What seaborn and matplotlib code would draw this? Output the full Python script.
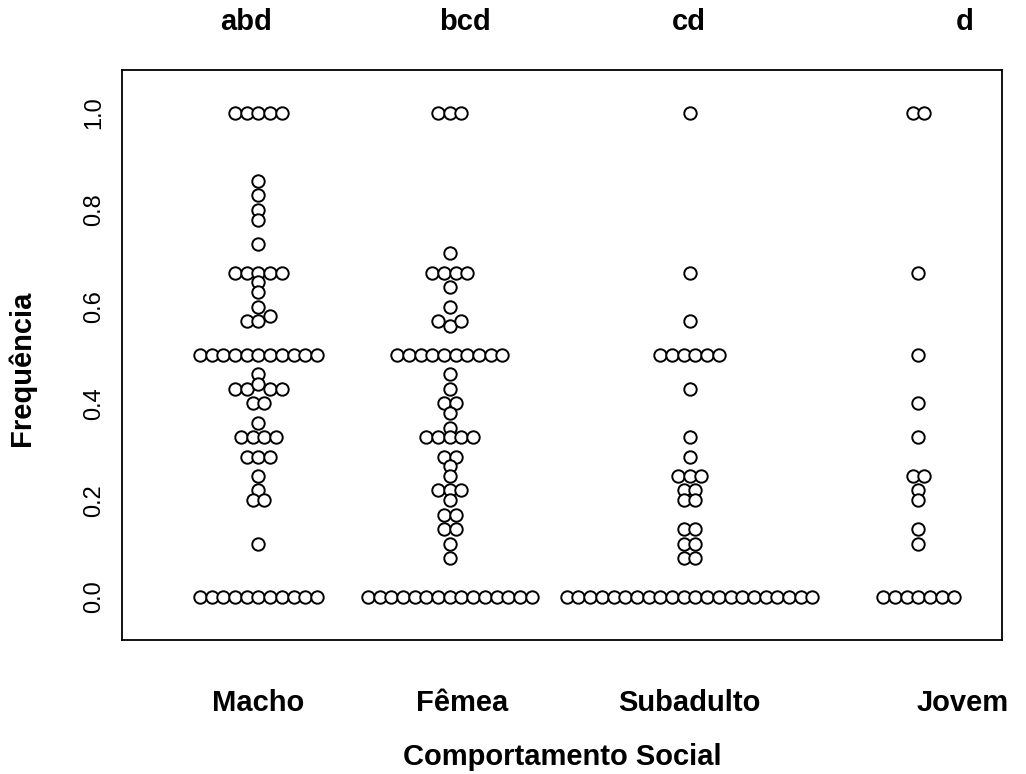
import numpy as np
import pandas as pd
import matplotlib
matplotlib.use("Agg")
import matplotlib.pyplot as plt
import seaborn as sns

# ---------------- data ----------------
grupos = ["Macho", "Fêmea", "Subadulto", "Jovem"]
letras = ["abd", "bcd", "cd", "d"]

macho = [1.0, 1.0, 1.0, 1.0, 1.0,
         0.86, 0.83, 0.80, 0.78, 0.73,
         0.67, 0.67, 0.67, 0.67, 0.67,
         0.65, 0.63, 0.60, 0.57, 0.57, 0.58,
         0.5, 0.5, 0.5, 0.5, 0.5, 0.5, 0.5, 0.5, 0.5, 0.5, 0.5,
         0.46, 0.43, 0.43, 0.44, 0.43, 0.43, 0.40, 0.40, 0.36,
         0.33, 0.33, 0.33, 0.33, 0.29, 0.29, 0.29, 0.25, 0.22, 0.20, 0.20, 0.11,
         0.0, 0.0, 0.0, 0.0, 0.0, 0.0, 0.0, 0.0, 0.0, 0.0, 0.0]

femea = [1.0, 1.0, 1.0,
         0.71, 0.67, 0.67, 0.67, 0.67, 0.64, 0.60, 0.57, 0.56, 0.57,
         0.5, 0.5, 0.5, 0.5, 0.5, 0.5, 0.5, 0.5, 0.5, 0.5,
         0.46, 0.43, 0.40, 0.40, 0.38, 0.35,
         0.33, 0.33, 0.33, 0.33, 0.33, 0.29, 0.29, 0.27, 0.25,
         0.22, 0.22, 0.22, 0.20, 0.17, 0.17, 0.14, 0.14, 0.11, 0.08,
         0.0, 0.0, 0.0, 0.0, 0.0, 0.0, 0.0, 0.0, 0.0, 0.0, 0.0, 0.0, 0.0, 0.0, 0.0]

subadulto = [1.0, 0.67, 0.57,
             0.5, 0.5, 0.5, 0.5, 0.5, 0.5,
             0.43, 0.33, 0.29, 0.25, 0.25, 0.25, 0.22, 0.22, 0.20, 0.20,
             0.14, 0.14, 0.11, 0.11, 0.08, 0.08,
             0.0, 0.0, 0.0, 0.0, 0.0, 0.0, 0.0, 0.0, 0.0, 0.0, 0.0,
             0.0, 0.0, 0.0, 0.0, 0.0, 0.0, 0.0, 0.0, 0.0, 0.0, 0.0]

jovem = [1.0, 1.0, 0.67, 0.5, 0.40, 0.33, 0.25, 0.25, 0.22, 0.20, 0.14, 0.11,
         0.0, 0.0, 0.0, 0.0, 0.0, 0.0, 0.0]

yticks = [0.0, 0.2, 0.4, 0.6, 0.8, 1.0]
ytick_labels = ["0.0", "0.2", "0.4", "0.6", "0.8", "1.0"]

# ---------------- layout ----------------
W, H, DPI = 1026, 774, 100
BOX = (122, 70, 1002, 640)          # left, top, right, bottom (px)
XLIM = (0.5, 4.5)
YLIM = (-0.089, 1.089)
centros = [1.12, 1.99, 3.08, 4.12]   # swarm centres
pos_rotulos = [1.12, 2.045, 3.08, 4.32]
pos_letras = [1.065, 2.06, 3.075, 4.33]
DIAM_PX = 11.7
TOL = 0.015
FS_BOLD = 21

sns.set_style("white")
plt.rcParams['font.family'] = ['Liberation Sans', 'DejaVu Sans']
plt.rcParams['text.color'] = 'black'
plt.rcParams['axes.labelcolor'] = 'black'
plt.rcParams['xtick.color'] = 'black'
plt.rcParams['ytick.color'] = 'black'

fig = plt.figure(figsize=(W / DPI, H / DPI), dpi=DPI)
ax = fig.add_axes([BOX[0] / W, 1 - BOX[3] / H, (BOX[2] - BOX[0]) / W, (BOX[3] - BOX[1]) / H])

dx = DIAM_PX * (XLIM[1] - XLIM[0]) / (BOX[2] - BOX[0])


def beeswarm_center(vals, tol=TOL):
    vals = np.asarray(vals, float)
    order = np.argsort(vals, kind="stable")
    rows, cur, start = [], [order[0]], vals[order[0]]
    for i in order[1:]:
        if vals[i] - start <= tol + 1e-9:
            cur.append(i)
        else:
            rows.append(cur)
            cur, start = [i], vals[i]
    rows.append(cur)
    off = np.zeros(len(vals))
    for r in rows:
        r = sorted(r)
        n = len(r)
        for k, i in enumerate(r):
            off[i] = k - (n - 1) / 2
    return off


frames = []
for g, c, vals in zip(grupos, centros, [macho, femea, subadulto, jovem]):
    off = beeswarm_center(vals)
    frames.append(pd.DataFrame({"grupo": g, "freq": vals, "x": c + off * dx}))
df = pd.concat(frames, ignore_index=True)

sns.scatterplot(data=df, x="x", y="freq", ax=ax, marker="o", s=80,
                color="white", edgecolor="black", linewidth=1.4, legend=False,
                zorder=3)

ax.set_xlim(*XLIM)
ax.set_ylim(*YLIM)
for sp in ax.spines.values():
    sp.set_visible(True)
    sp.set_color("black")
    sp.set_linewidth(1.3)

ax.set_yticks(yticks)
ax.set_yticklabels(ytick_labels, rotation=90, va="center", fontsize=17, color="black")
ax.tick_params(axis="y", length=7, width=1.2, pad=5, color="black", labelcolor="black")

ax.set_xticks(pos_rotulos)
ax.set_xticklabels(grupos, fontsize=FS_BOLD, fontweight="bold", color="black")
ax.tick_params(axis="x", length=0, pad=35, labelcolor="black")

ax.set_xlabel("Comportamento Social", fontsize=FS_BOLD, fontweight="bold", va="center",
              color="black")
ax.xaxis.set_label_coords(0.5, (BOX[3] - 757) / (BOX[3] - BOX[1]))
ax.set_ylabel("Frequência", fontsize=FS_BOLD, fontweight="bold", va="center", color="black")
ax.yaxis.set_label_coords((22 - BOX[0]) / (BOX[2] - BOX[0]), (BOX[3] - 368) / (BOX[3] - BOX[1]))

for p, l in zip(pos_letras, letras):
    ax.text(p, (BOX[3] - 22) / (BOX[3] - BOX[1]), l, transform=ax.get_xaxis_transform(),
            ha="center", va="center", fontsize=FS_BOLD, fontweight="bold", color="black")

fig.savefig("out.png", dpi=DPI, facecolor="white")
